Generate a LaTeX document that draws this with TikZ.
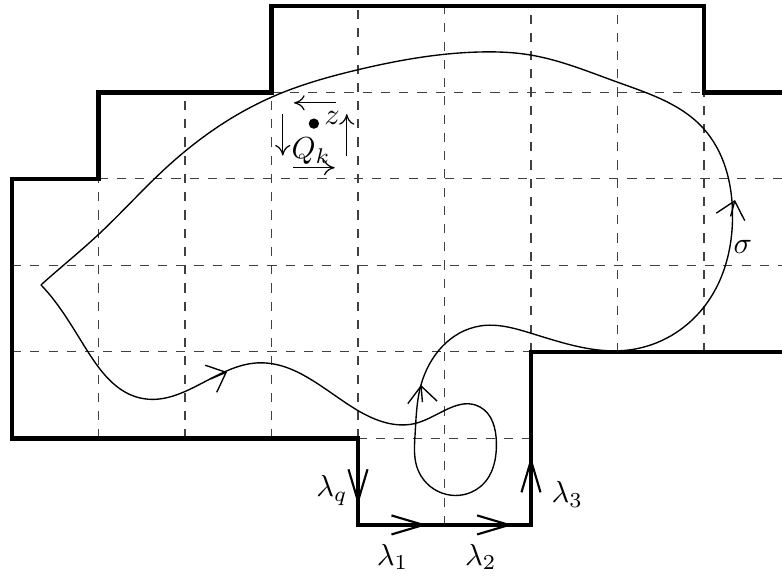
\documentclass[tikz,border=0pt]{standalone}
\usetikzlibrary{arrows.meta, decorations.markings, hobby}

\begin{document}
\begin{tikzpicture}[
  gridline/.style={dashed, line width=0.35pt, black!75},
  boundary/.style={line width=1.4pt, line join=miter},
  sigma/.style={line width=0.45pt, line join=round},
  lammark/.style={postaction={decorate, decoration={markings,
      mark=at position #1 with {\arrow{Straight Barb[length=3.7mm, width=2.2mm, line width=0.7pt]}}}}},
  sigtip/.style={-{Straight Barb[length=1.9mm, width=3.4mm]}, line width=0.45pt},
  cellarrow/.style={-{To[length=3.5pt, width=5pt]}, line width=0.4pt},
  lbl/.style={inner sep=0pt}]

  \useasboundingbox (-0.139,-0.590) rectangle (8.902,6.069);

  % dashed grid, cut by hand to the region
  \foreach \x/\ya/\yb in {1/1/4, 2/1/5, 3/1/5, 4/1/6, 5/0/6, 6/2/6, 7/2/6, 8/2/5}
    \draw[gridline] (\x,\ya) -- (\x,\yb);
  \foreach \y/\xa/\xb in {5/3/8, 4/1/8.902, 3/0/8.902, 2/0/6, 1/4/6}
    \draw[gridline] (\xa,\y) -- (\xb,\y);

  % boundary of the region
  \coordinate (q0) at (4,1);
  \coordinate (q1) at (4,0);
  \coordinate (q2) at (6,0);
  \coordinate (q3) at (6,2);
  \draw[boundary] (8.902,5) -- (8,5) -- (8,6) -- (3,6) -- (3,5) -- (1,5) -- (1,4)
    -- (0,4) -- (0,1) -- (q0) -- (q1) -- (q2) -- (q3) -- (8.902,2);
  \draw[boundary, lammark=0.77] (q0) -- (q1);
  \draw[boundary, lammark=0.4, lammark=0.895] (q1) -- (q2);
  \draw[boundary, lammark=0.395] (q2) -- (q3);

  \node[lbl] (lq) at (3.70,0.40) {$\lambda_q$};
  \node[lbl] (l1) at (4.40,-0.37) {$\lambda_1$};
  \node[lbl] (l2) at (5.42,-0.37) {$\lambda_2$};
  \node[lbl] (l3) at (6.42,0.35) {$\lambda_3$};

  % the curve sigma, from its left tip
  \coordinate (tip) at (0.335,2.775);
  \draw[sigma, use Hobby shortcut]
    ([out angle=-46]tip) .. (0.879,2.0) .. (1.48,1.468) .. (2.832,1.873)
    .. (3.988,1.329) .. (4.682,1.179) .. (5.41,1.364) .. (5.60,0.95)
    .. (5.41,0.439) .. (4.70,0.62) .. (4.66,1.05) .. (4.728,1.618) .. (5.41,2.30)
    .. (5.988,2.22) .. (7.15,2.025) .. (8.0,2.52) .. (8.33,3.60)
    .. (7.988,4.59) .. (6.994,5.121) .. (5.988,5.434)
    .. (5.41,5.468) .. (3.988,5.26) .. (3.006,4.948)
    .. (1.792,4.139) .. (0.994,3.353) .. ([in angle=42]tip);
  \coordinate (s1a) at (8.308,3.567);
  \coordinate (s1b) at (8.358,3.757);
  \coordinate (s2a) at (2.30,1.69);
  \coordinate (s2b) at (2.486,1.769);
  \coordinate (s3a) at (4.745,1.42);
  \coordinate (s3b) at (4.728,1.618);
  \draw[sigtip] (s1a) -- (s1b);
  \draw[sigtip] (s2a) -- (s2b);
  \draw[sigtip] (s3a) -- (s3b);
  \node[lbl] (sg) at (8.45,3.21) {$\sigma$};

  % the cell around Q_k
  \coordinate (cc) at (3.5,4.5);
  \node[circle, fill, inner sep=0pt, minimum size=3.4pt] (dot) at (3.49,4.64) {};
  \node[lbl] (z) at (3.70,4.705) {$z$};
  \node[lbl] (qk) at (3.457,4.32) {$Q_k$};
  \draw[cellarrow] ([shift={(0.24,0.38)}]cc) -- ([shift={(-0.24,0.38)}]cc);
  \draw[cellarrow] ([shift={(-0.37,0.25)}]cc) -- ([shift={(-0.37,-0.23)}]cc);
  \draw[cellarrow] ([shift={(-0.25,-0.37)}]cc) -- ([shift={(0.23,-0.37)}]cc);
  \draw[cellarrow] ([shift={(0.37,-0.23)}]cc) -- ([shift={(0.37,0.25)}]cc);
\end{tikzpicture}
\end{document}
